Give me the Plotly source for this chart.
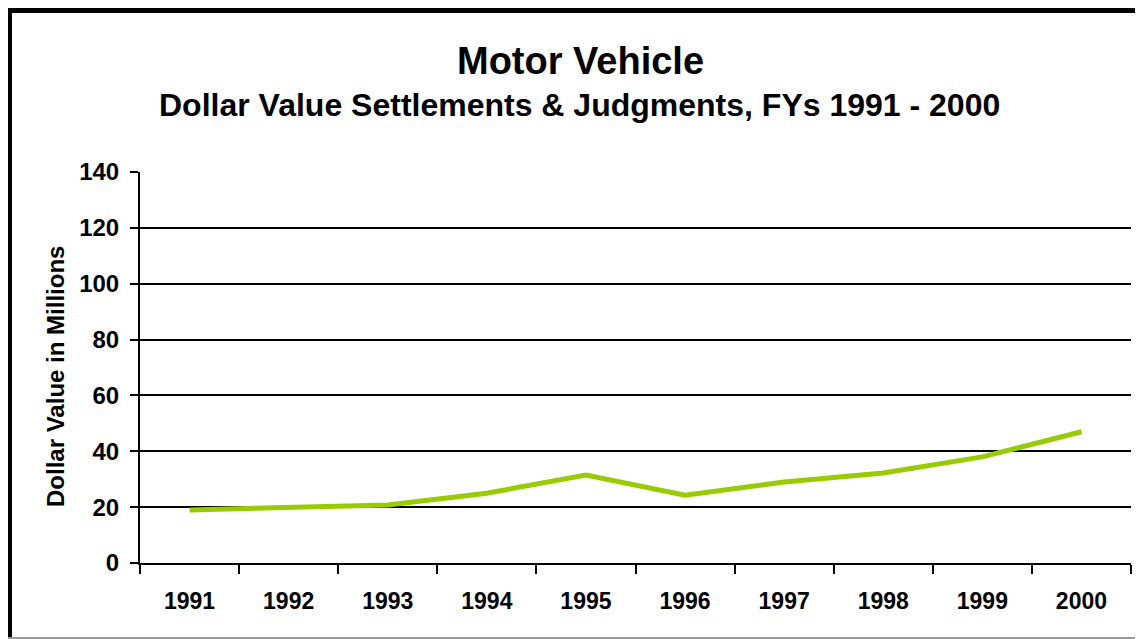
import plotly.graph_objects as go

years = ["1991", "1992", "1993", "1994", "1995", "1996", "1997", "1998", "1999", "2000"]
values = [19.0, 19.7, 20.8, 25.0, 31.5, 24.3, 29.0, 32.2, 38.0, 47.0]
y_ticks = [0, 20, 40, 60, 80, 100, 120, 140]

OFF = 8  # page body margin
W, H = 1143 - OFF, 639 - OFF
plot_left, plot_right, plot_top, plot_bottom = 140, 1131, 172, 563  # page px
L, R = plot_left - OFF, W - (plot_right - OFF)
T, B = plot_top - OFF, H - (plot_bottom - OFF)
pw, ph = W - L - R, H - T - B

def px_x(x):
    return (x - OFF - L) / pw

def px_y(y):
    return (H - B - (y - OFF)) / ph

font = "Liberation Sans, Arial, sans-serif"

fig = go.Figure()
fig.add_trace(go.Scatter(
    x=years, y=values, mode="lines",
    line=dict(color="#99CC00", width=5),
    hoverinfo="x+y", showlegend=False,
))

fig.update_layout(
    width=W, height=H,
    margin=dict(l=L, r=R, t=T, b=B, pad=0),
    paper_bgcolor="white", plot_bgcolor="white",
    font=dict(family=font, color="black"),
    xaxis=dict(
        type="category", range=[-0.5, 9.5],
        showline=True, linecolor="black", linewidth=2,
        ticks="outside", tickson="boundaries", ticklen=9, tickwidth=2, tickcolor="black",
        showgrid=False, zeroline=False,
        tickfont=dict(size=23, family=font, color="black", weight="bold"),
        ticklabelstandoff=16,
    ),
    yaxis=dict(
        range=[0, 140], tickvals=y_ticks,
        showline=True, linecolor="black", linewidth=2,
        ticks="outside", ticklen=8, tickwidth=2, tickcolor="black",
        showgrid=True, gridcolor="black", gridwidth=2,
        zeroline=False,
        tickfont=dict(size=24, family=font, color="black", weight="bold"),
        ticklabelstandoff=6,
    ),
    annotations=[
        dict(text="<b>Motor Vehicle</b>", xref="paper", yref="paper",
             x=px_x(580), y=px_y(61), xanchor="center", yanchor="middle",
             showarrow=False, font=dict(size=38, family=font, color="black")),
        dict(text="<b>Dollar Value Settlements &amp; Judgments, FYs 1991 - 2000</b>",
             xref="paper", yref="paper",
             x=px_x(579), y=px_y(105), xanchor="center", yanchor="middle",
             showarrow=False, font=dict(size=32, family=font, color="black")),
        dict(text="<b>Dollar Value in Millions</b>", xref="paper", yref="paper",
             x=px_x(55), y=px_y(377), xanchor="center", yanchor="middle",
             textangle=-90, showarrow=False,
             font=dict(size=24, family=font, color="black")),
    ],
    shapes=[
        dict(type="line", xref="paper", yref="paper",
             x0=px_x(8), x1=px_x(1160), y0=px_y(10.5), y1=px_y(10.5),
             line=dict(color="black", width=5)),
        dict(type="line", xref="paper", yref="paper",
             x0=px_x(9.5), x1=px_x(9.5), y0=px_y(8), y1=px_y(640),
             line=dict(color="black", width=5)),
        dict(type="line", xref="paper", yref="paper",
             x0=px_x(7), x1=px_x(1160), y0=px_y(638), y1=px_y(638),
             line=dict(color="#999999", width=2)),
    ],
)

fig.write_html("out.html")
